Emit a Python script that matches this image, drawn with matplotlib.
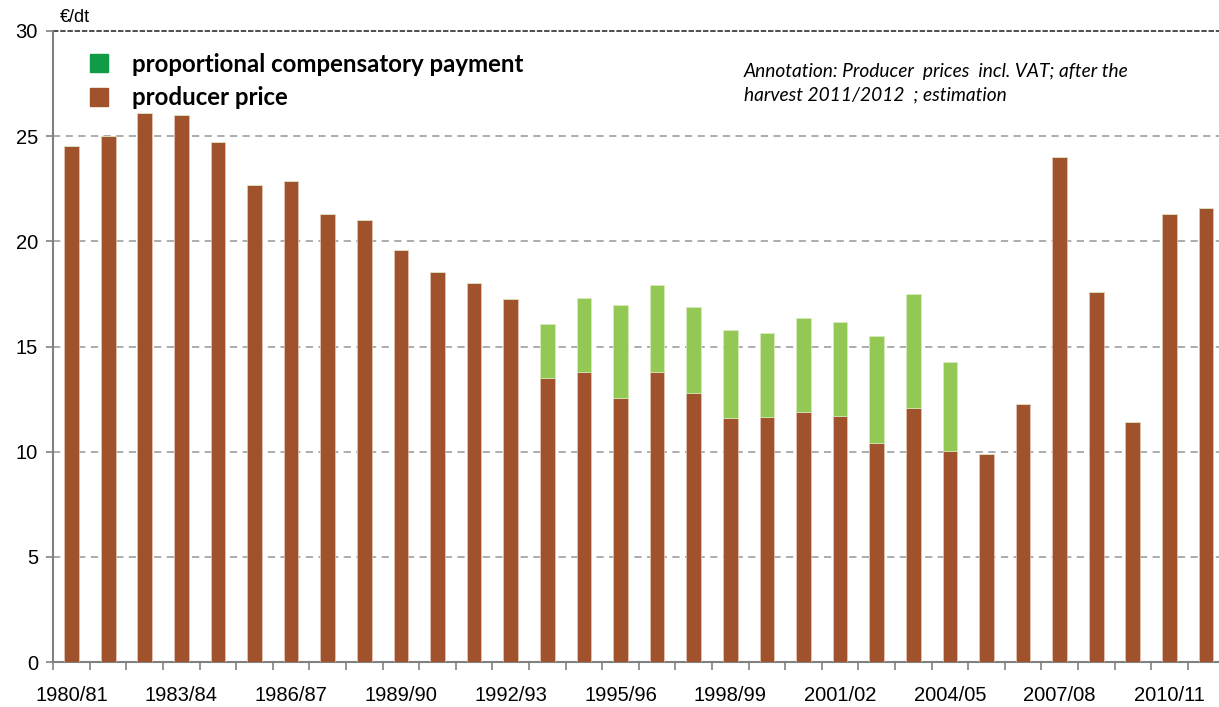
import matplotlib
matplotlib.use("Agg")
import matplotlib.pyplot as plt
import numpy as np

years = ["1980/81", "1981/82", "1982/83", "1983/84", "1984/85", "1985/86", "1986/87",
         "1987/88", "1988/89", "1989/90", "1990/91", "1991/92", "1992/93", "1993/94",
         "1994/95", "1995/96", "1996/97", "1997/98", "1998/99", "1999/00", "2000/01",
         "2001/02", "2002/03", "2003/04", "2004/05", "2005/06", "2006/07", "2007/08",
         "2008/09", "2009/10", "2010/11", "2011/12"]

# producer price (EUR/dt)
producer_price = [24.55, 25.0, 26.1, 26.0, 24.7, 22.7, 22.87, 21.3, 21.0, 19.6,
                  18.55, 18.0, 17.26, 13.5, 13.8, 12.55, 13.8, 12.8, 11.58, 11.66,
                  11.89, 11.71, 10.42, 12.09, 10.02, 9.87, 12.27, 24.0, 17.6, 11.41,
                  21.3, 21.6]

# proportional compensatory payment, given as total bar height
total_height = [0, 0, 0, 0, 0, 0, 0, 0, 0, 0, 0, 0, 0, 16.07, 17.3, 16.97, 17.93,
                16.88, 15.78, 15.64, 16.37, 16.16, 15.5, 17.5, 14.24, 0, 0, 0, 0, 0, 0, 0]
compensation = [max(t - p, 0) for t, p in zip(total_height, producer_price)]

brown = "#A0522D"
green = "#92C853"
green_legend = "#109C47"

fig = plt.figure(figsize=(12.19, 7.07), dpi=100)
ax = fig.add_axes([53.3 / 1219, 45 / 707, 1171 / 1219, 631 / 707])

x = np.arange(len(years))
ax.bar(x, producer_price, width=0.4, color=brown, edgecolor="#E8C8B8", linewidth=0.5, zorder=3)
ax.bar(x, compensation, width=0.4, bottom=producer_price, color=green,
       edgecolor="#D8ECC0", linewidth=0.5, zorder=3)

ax.set_xlim(-0.5, len(years) - 0.5)
ax.set_ylim(0, 30)

for v in [5, 10, 15, 20, 25]:
    ax.axhline(v, color="#A6A6A6", lw=1.3, ls=(0, (4, 3)), zorder=1)
ax.axhline(30, color="#404040", lw=1.3, ls=(0, (3, 1)), zorder=1, clip_on=False)

for s in ["top", "right"]:
    ax.spines[s].set_visible(False)
for s in ["left", "bottom"]:
    ax.spines[s].set_color("#808080")
    ax.spines[s].set_linewidth(1.5)

ax.set_yticks([0, 5, 10, 15, 20, 25, 30])
ax.tick_params(axis="y", direction="out", length=5, color="#808080", width=1.2,
               labelsize=14.5, pad=6)
ax.set_xticks(x[::3])
ax.set_xticklabels(years[::3])
ax.tick_params(axis="x", which="major", length=0, labelsize=14.5, pad=17)
ax.set_xticks(np.arange(-0.5, len(years), 1), minor=True)
ax.tick_params(axis="x", which="minor", direction="out", length=6, color="#808080", width=1.2)
for lab in ax.get_xticklabels() + ax.get_yticklabels():
    lab.set_fontfamily("Liberation Sans")

fig.text(60 / 1219, 1 - 18 / 707, "€/dt", fontsize=13, family="Liberation Sans",
         va="center", ha="left")

# legend
h1 = plt.Rectangle((0, 0), 1, 1, color=green_legend)
h2 = plt.Rectangle((0, 0), 1, 1, color=brown)
leg = fig.legend([h1, h2], ["proportional compensatory payment", "producer price"],
                 loc="upper left", bbox_to_anchor=(80 / 1219, 1 - 43 / 707),
                 frameon=False, handlelength=0.75, handleheight=0.75, handletextpad=1.0,
                 labelspacing=0.45, borderaxespad=0,
                 prop={"family": "Lato", "weight": "bold", "size": 17.3})

fig.text(744 / 1219, 1 - 72 / 707, "Annotation: Producer  prices  incl. VAT; after the",
         fontsize=13.8, family="Lato", style="italic", va="center", ha="left")
fig.text(744 / 1219, 1 - 95 / 707, "harvest 2011/2012  ; estimation",
         fontsize=13.8, family="Lato", style="italic", va="center", ha="left")

fig.savefig("out.png", dpi=100)
